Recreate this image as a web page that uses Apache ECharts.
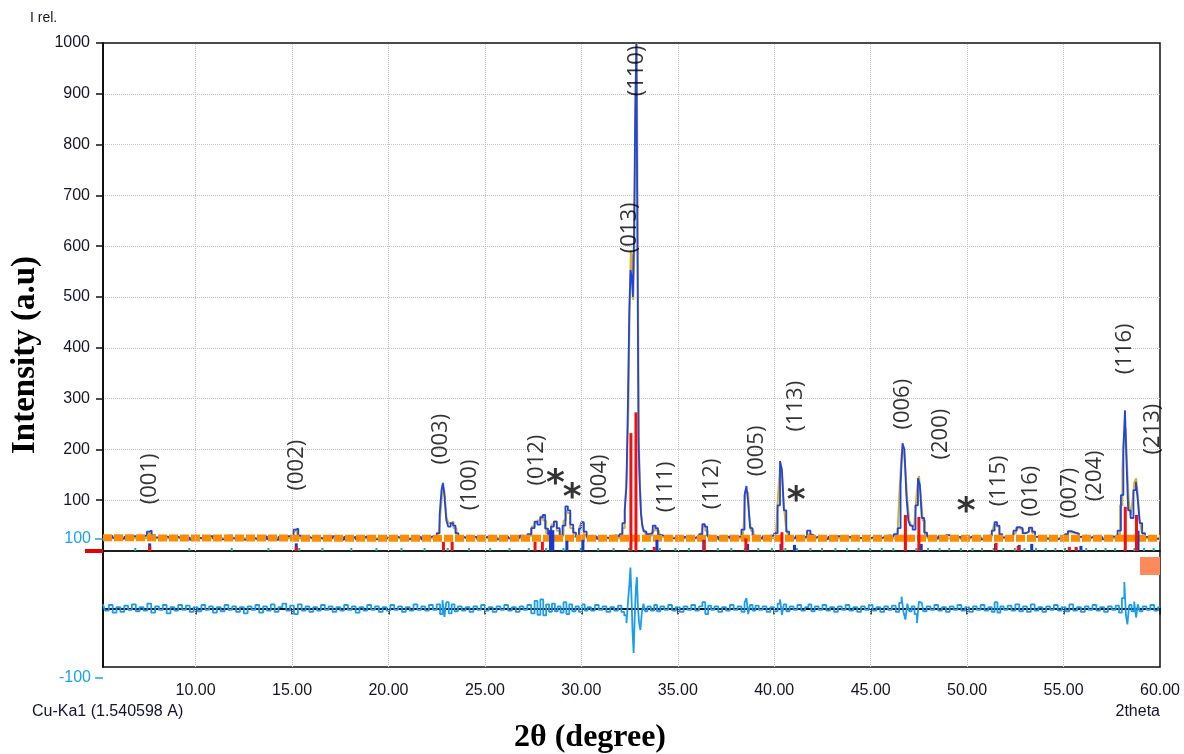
<!DOCTYPE html>
<html>
<head>
<meta charset="utf-8">
<title>XRD refinement</title>
<script src="https://cdn.jsdelivr.net/npm/echarts@6/dist/echarts.min.js"></script>
<style>
    html, body { margin: 0; padding: 0; background: #fff; }
    #chart { width: 1184px; height: 754px; }
</style>
</head>
<body>
<div id="chart"></div>
<script>
// x range of the pattern (2theta)
const xMin = 5.2
const xMax = 60
const xTicks = [10, 15, 20, 25, 30, 35, 40, 45, 50, 55, 60]
const xGridLines = [10, 15, 20, 25, 30, 35, 40, 45, 50, 55]

// observed pattern [2theta, I]
const observed = [
    [5.2, 31], [5.4, 27], [5.6, 30], [5.8, 26], [6.0, 29], [6.2, 24], [6.4, 28], [6.6, 23], [6.8, 29], [7.0, 26],
    [7.2, 28], [7.4, 31], [7.55, 38], [7.65, 40], [7.8, 31], [8.0, 27], [8.2, 24], [8.4, 29], [8.6, 26], [8.8, 23],
    [9.0, 28], [9.2, 25], [9.4, 29], [9.6, 26], [9.8, 22], [10.0, 28], [10.2, 25], [10.4, 27], [10.6, 23], [10.8, 29],
    [11.0, 25], [11.2, 28], [11.4, 23], [11.6, 26], [11.8, 30], [12.0, 25], [12.2, 28], [12.4, 23], [12.6, 21], [12.8, 28],
    [13.0, 25], [13.2, 22], [13.4, 27], [13.6, 29], [13.8, 23], [14.0, 26], [14.2, 22], [14.4, 28], [14.6, 25], [14.8, 29],
    [15.0, 31], [15.15, 42], [15.25, 44], [15.4, 30], [15.6, 23], [15.8, 28], [16.0, 25], [16.2, 29], [16.4, 26], [16.6, 23],
    [16.8, 28], [17.0, 25], [17.2, 29], [17.4, 26], [17.6, 22], [17.8, 28], [18.0, 25], [18.2, 28], [18.4, 23], [18.6, 26],
    [18.8, 29], [19.0, 25], [19.2, 28], [19.4, 23], [19.6, 26], [19.8, 29], [20.0, 25], [20.2, 22], [20.4, 28], [20.6, 25],
    [20.8, 29], [21.0, 23], [21.2, 26], [21.4, 25], [21.6, 28], [21.8, 23], [22.0, 26], [22.2, 29], [22.4, 28], [22.6, 35],
    [22.7, 70], [22.8, 120], [22.85, 134], [22.95, 110], [23.05, 60], [23.15, 48], [23.3, 55], [23.4, 50], [23.55, 35], [23.7, 29],
    [23.9, 26], [24.1, 29], [24.3, 24], [24.5, 28], [24.7, 23], [24.9, 26], [25.1, 29], [25.3, 24], [25.5, 28], [25.7, 23],
    [25.9, 26], [26.1, 29], [26.3, 25], [26.5, 28], [26.7, 26], [26.9, 30], [27.1, 28], [27.3, 33], [27.5, 45], [27.65, 58],
    [27.8, 52], [27.95, 66], [28.05, 71], [28.2, 44], [28.35, 32], [28.5, 48], [28.65, 58], [28.8, 45], [28.95, 30], [29.1, 50],
    [29.25, 88], [29.35, 80], [29.5, 52], [29.65, 36], [29.8, 28], [29.95, 44], [30.05, 57], [30.2, 38], [30.35, 28], [30.5, 26],
    [30.7, 29], [30.9, 24], [31.1, 28], [31.3, 26], [31.5, 29], [31.7, 31], [31.9, 29], [32.05, 33], [32.2, 55], [32.3, 80],
    [32.37, 126], [32.45, 281], [32.52, 470], [32.58, 553], [32.64, 540], [32.7, 500], [32.76, 620], [32.82, 850], [32.88, 1000], [32.93, 620],
    [33.0, 213], [33.06, 130], [33.12, 75], [33.2, 50], [33.3, 38], [33.45, 33], [33.6, 35], [33.8, 50], [33.9, 45], [34.05, 32],
    [34.2, 30], [34.4, 27], [34.6, 29], [34.8, 25], [35.0, 28], [35.2, 24], [35.4, 28], [35.6, 23], [35.8, 26], [36.0, 29],
    [36.2, 33], [36.35, 53], [36.45, 48], [36.6, 30], [36.8, 24], [37.0, 28], [37.2, 23], [37.4, 26], [37.6, 29], [37.8, 25],
    [38.0, 28], [38.2, 29], [38.4, 42], [38.52, 110], [38.6, 128], [38.7, 95], [38.8, 45], [38.95, 30], [39.1, 27], [39.3, 24],
    [39.5, 29], [39.7, 26], [39.9, 30], [40.1, 35], [40.25, 90], [40.35, 177], [40.45, 160], [40.55, 80], [40.7, 38], [40.85, 29],
    [41.0, 25], [41.2, 29], [41.4, 24], [41.6, 28], [41.8, 40], [41.95, 32], [42.1, 27], [42.3, 30], [42.5, 26], [42.7, 23],
    [42.9, 28], [43.1, 25], [43.3, 29], [43.5, 26], [43.7, 23], [43.9, 28], [44.1, 25], [44.3, 22], [44.5, 26], [44.7, 29],
    [44.9, 25], [45.1, 28], [45.3, 23], [45.5, 26], [45.7, 29], [45.9, 31], [46.1, 29], [46.3, 33], [46.5, 45], [46.6, 130],
    [46.7, 212], [46.8, 200], [46.9, 110], [47.0, 60], [47.1, 50], [47.25, 42], [47.4, 90], [47.5, 143], [47.6, 130], [47.7, 65],
    [47.85, 36], [48.0, 29], [48.2, 27], [48.4, 24], [48.6, 29], [48.8, 26], [49.0, 31], [49.2, 28], [49.4, 24], [49.6, 28],
    [49.8, 23], [50.0, 26], [50.2, 29], [50.4, 25], [50.6, 28], [50.8, 23], [51.0, 26], [51.2, 30], [51.35, 40], [51.5, 57],
    [51.6, 50], [51.75, 33], [51.9, 27], [52.1, 26], [52.3, 29], [52.5, 40], [52.65, 47], [52.8, 45], [52.95, 35], [53.1, 38],
    [53.3, 46], [53.45, 38], [53.6, 28], [53.8, 26], [54.0, 29], [54.2, 24], [54.4, 28], [54.6, 23], [54.8, 26], [55.0, 29],
    [55.15, 33], [55.3, 39], [55.5, 36], [55.7, 34], [55.9, 28], [56.1, 31], [56.3, 26], [56.5, 29], [56.7, 24], [56.9, 28],
    [57.1, 23], [57.3, 26], [57.5, 29], [57.7, 27], [57.9, 40], [58.05, 110], [58.15, 200], [58.22, 277], [58.3, 180], [58.4, 80],
    [58.55, 65], [58.7, 120], [58.8, 136], [58.9, 100], [59.0, 55], [59.15, 35], [59.3, 28], [59.5, 26], [59.7, 29], [59.9, 24],
    [60.0, 27]
]

// calculated profile [2theta, I]
const calculated = [
    [5.2, 25], [7.45, 25], [7.55, 34], [7.65, 36], [7.75, 25], [15.05, 25], [15.15, 38], [15.25, 40], [15.35, 25], [22.55, 25],
    [22.62, 30], [22.7, 60], [22.78, 95], [22.85, 128], [22.95, 118], [23.05, 68], [23.15, 55], [23.3, 58], [23.45, 45], [23.6, 28],
    [23.7, 25], [27.25, 25], [27.35, 30], [27.5, 48], [27.65, 55], [27.8, 60], [27.95, 68], [28.1, 60], [28.25, 35], [28.4, 40],
    [28.5, 52], [28.65, 58], [28.8, 40], [29.0, 30], [29.15, 60], [29.25, 80], [29.35, 75], [29.5, 45], [29.7, 28], [29.85, 30],
    [29.95, 48], [30.05, 55], [30.2, 32], [30.35, 25], [31.95, 25], [32.05, 28], [32.2, 45], [32.3, 80], [32.4, 150], [32.48, 281],
    [32.54, 500], [32.6, 592], [32.66, 580], [32.72, 494], [32.78, 600], [32.84, 900], [32.9, 1000], [32.96, 560], [33.0, 224], [33.06, 134],
    [33.14, 70], [33.25, 40], [33.4, 32], [33.6, 30], [33.75, 40], [33.85, 48], [33.95, 40], [34.1, 28], [34.2, 25], [36.15, 25],
    [36.25, 30], [36.35, 50], [36.5, 40], [36.6, 28], [36.7, 25], [38.35, 25], [38.45, 40], [38.55, 118], [38.65, 115], [38.75, 70],
    [38.85, 40], [39.0, 28], [39.1, 25], [40.05, 25], [40.15, 40], [40.25, 110], [40.35, 165], [40.45, 150], [40.55, 90], [40.65, 50],
    [40.75, 32], [40.85, 25], [41.75, 25], [41.82, 32], [41.9, 36], [41.98, 25], [46.35, 25], [46.45, 40], [46.55, 120], [46.65, 190],
    [46.75, 205], [46.85, 160], [46.95, 100], [47.05, 60], [47.15, 50], [47.25, 48], [47.35, 70], [47.45, 120], [47.55, 148], [47.65, 110],
    [47.75, 60], [47.88, 32], [48.0, 25], [51.25, 25], [51.35, 38], [51.45, 52], [51.6, 48], [51.75, 32], [51.85, 25], [52.35, 25],
    [52.45, 35], [52.6, 45], [52.8, 42], [53.0, 35], [53.15, 38], [53.3, 44], [53.45, 36], [53.6, 28], [53.7, 25], [55.05, 25],
    [55.15, 32], [55.3, 37], [55.5, 36], [55.7, 33], [55.85, 27], [55.95, 25], [57.75, 25], [57.85, 32], [58.0, 90], [58.1, 160],
    [58.18, 230], [58.25, 242], [58.33, 170], [58.42, 100], [58.52, 70], [58.62, 95], [58.72, 135], [58.8, 143], [58.9, 110], [59.0, 60],
    [59.1, 38], [59.2, 30], [59.3, 25], [60.0, 25]
]

// background line
const background = [[5.2, 26], [20, 25], [40, 25], [60, 25]]

// observed - calculated
const difference = [
    [5.2, 6], [5.4, -3], [5.6, 5], [5.8, -6], [6.0, 2], [6.2, -5], [6.4, 4], [6.6, -2], [6.8, 6], [7.0, -4],
    [7.2, 2], [7.4, -3], [7.6, 7], [7.8, -6], [8.0, 3], [8.2, -2], [8.4, 5], [8.6, -7], [8.8, 2], [9.0, -3],
    [9.2, 5], [9.4, -2], [9.6, 4], [9.8, -5], [10.0, 2], [10.2, -4], [10.4, 5], [10.6, -2], [10.8, 3], [11.0, -6],
    [11.2, 2], [11.4, -4], [11.6, 5], [11.8, -2], [12.0, 3], [12.2, -5], [12.4, 2], [12.6, -7], [12.8, 3], [13.0, -2],
    [13.2, 5], [13.4, -6], [13.6, 3], [13.8, -3], [14.0, 6], [14.2, -5], [14.4, 2], [14.6, 7], [14.8, -3], [15.0, 4],
    [15.2, -8], [15.4, 6], [15.6, -3], [15.8, 3], [16.0, -5], [16.2, 2], [16.4, -3], [16.6, 5], [16.8, -2], [17.0, 3],
    [17.2, -5], [17.4, 2], [17.6, -3], [17.8, 5], [18.0, -2], [18.2, 3], [18.4, -6], [18.6, 2], [18.8, -3], [19.0, 5],
    [19.2, -2], [19.4, 3], [19.6, -5], [19.8, 2], [20.0, -3], [20.2, 5], [20.4, -2], [20.6, 3], [20.8, -5], [21.0, 2],
    [21.2, -3], [21.4, 6], [21.6, -2], [21.8, 3], [22.0, -3], [22.2, 5], [22.4, -2], [22.6, 6], [22.75, -8], [22.85, 12],
    [22.95, -12], [23.05, 9], [23.2, -7], [23.35, 6], [23.5, -4], [23.7, 3], [23.9, -3], [24.1, 2], [24.3, -5], [24.5, 3],
    [24.7, -2], [24.9, 5], [25.1, -3], [25.3, 2], [25.5, -5], [25.7, 3], [25.9, -2], [26.1, 5], [26.3, -3], [26.5, 2],
    [26.7, -5], [26.9, 3], [27.1, -2], [27.3, 5], [27.5, -7], [27.65, 11], [27.8, -9], [27.95, 13], [28.1, -10], [28.25, 6],
    [28.4, -5], [28.55, 7], [28.7, -4], [28.85, 3], [29.0, -6], [29.15, 9], [29.3, -8], [29.45, 6], [29.6, -4], [29.8, 3],
    [29.95, -5], [30.1, 6], [30.25, -3], [30.4, 2], [30.6, -3], [30.8, 5], [31.0, -2], [31.2, 3], [31.4, -5], [31.6, 2],
    [31.8, -3], [32.0, 4], [32.15, -5], [32.3, -10], [32.38, -21], [32.46, 10], [32.52, 35], [32.57, 59], [32.62, 20], [32.68, -30],
    [32.74, -64], [32.8, -10], [32.86, 30], [32.9, 45], [32.96, 5], [33.02, -20], [33.1, -31], [33.18, -5], [33.26, 7], [33.35, -4],
    [33.5, 3], [33.7, -3], [33.85, 5], [34.0, -4], [34.2, 3], [34.4, -2], [34.6, 5], [34.8, -3], [35.0, 2], [35.2, -5],
    [35.4, 3], [35.6, -2], [35.8, 5], [36.0, -3], [36.2, 3], [36.35, 9], [36.5, -8], [36.65, 4], [36.8, -2], [37.0, 3],
    [37.2, -5], [37.4, 2], [37.6, -3], [37.8, 5], [38.0, -2], [38.2, 3], [38.4, -5], [38.52, 8], [38.6, 15], [38.7, -8],
    [38.8, 5], [38.95, -3], [39.1, 4], [39.3, -2], [39.5, 3], [39.7, -5], [39.9, 2], [40.1, -4], [40.25, 7], [40.35, 13],
    [40.45, -9], [40.55, 6], [40.7, -4], [40.9, 3], [41.1, -2], [41.3, 5], [41.5, -3], [41.7, 2], [41.85, 6], [42.0, -4],
    [42.2, 3], [42.4, -2], [42.6, 5], [42.8, -3], [43.0, 2], [43.2, -5], [43.4, 3], [43.6, -2], [43.8, 5], [44.0, -3],
    [44.2, 2], [44.4, -5], [44.6, 3], [44.8, -2], [45.0, 5], [45.2, -3], [45.4, 2], [45.6, -5], [45.8, 3], [46.0, -2],
    [46.2, 4], [46.4, -5], [46.55, 8], [46.65, 17], [46.75, -5], [46.85, -16], [46.95, 7], [47.05, -4], [47.2, 3], [47.35, -8],
    [47.45, -21], [47.55, 10], [47.65, 8], [47.8, -4], [48.0, 3], [48.2, -2], [48.4, 5], [48.6, -3], [48.8, 2], [49.0, -5],
    [49.2, 3], [49.4, -2], [49.6, 5], [49.8, -3], [50.0, 2], [50.2, -5], [50.4, 3], [50.6, -2], [50.8, 5], [51.0, -3],
    [51.2, 2], [51.35, -5], [51.5, 9], [51.65, -6], [51.8, 3], [52.0, -2], [52.2, 4], [52.4, -3], [52.6, 6], [52.8, -4],
    [53.0, 3], [53.2, -5], [53.4, 6], [53.6, -3], [53.8, 2], [54.0, -5], [54.2, 3], [54.4, -2], [54.6, 5], [54.8, -3],
    [55.0, 2], [55.2, -4], [55.4, 6], [55.6, -3], [55.8, 2], [56.0, -5], [56.2, 3], [56.4, -2], [56.6, 5], [56.8, -3],
    [57.0, 2], [57.2, -5], [57.4, 3], [57.6, -2], [57.8, 4], [57.95, -6], [58.1, 15], [58.2, 38], [58.27, -10], [58.35, -23],
    [58.45, 5], [58.6, -4], [58.72, 10], [58.8, -13], [58.9, 6], [59.0, -4], [59.2, 3], [59.4, -2], [59.6, 5], [59.8, -3],
    [60.0, 2]
]

// reflection markers of the main phase (red) and the second phase (blue)
const redSticks = [
    [7.62, 10], [15.22, 8], [22.85, 18], [23.3, 18], [27.6, 18], [27.98, 18], [32.57, 232], [32.83, 273], [33.78, 8], [36.37, 20],
    [38.53, 25], [40.4, 37], [46.8, 71], [47.5, 67], [51.5, 16], [52.65, 10], [55.3, 8], [55.65, 8], [58.2, 87], [58.78, 71]
]
const blueSticks = [
    [7.62, 15], [15.22, 15], [28.4, 41], [28.52, 41], [29.25, 20], [30.08, 22], [33.92, 22], [36.35, 22], [38.62, 14], [40.35, 14],
    [41.05, 12], [47.62, 14], [51.47, 14], [52.7, 12], [53.35, 14], [55.9, 10], [58.86, 40]
]
// third phase tick marks along the base line
const tealTicks = [
    6.9, 9.7, 11.9, 13.8, 15.4, 16.6, 18.1, 19.4, 20.7, 21.9, 23.1, 24.2, 25.3, 26.3, 27.3, 28.2, 29.1, 30.0, 30.9, 31.7,
    32.5, 33.3, 34.1, 34.9, 35.6, 36.4, 37.1, 37.8, 38.5, 39.2, 39.9, 40.6, 41.2, 41.9, 42.5, 43.2, 43.8, 44.4, 45.0, 45.6,
    46.2, 46.8, 47.4, 48.0, 48.6, 49.1, 49.7, 50.3, 50.8, 51.4, 51.9, 52.5, 53.0, 53.6, 54.1, 54.6, 55.1, 55.7, 56.2, 56.7,
    57.2, 57.7, 58.2, 58.7, 59.2, 59.7
]

// Miller index labels [2theta, I, text]
const hklLabels = [
    [7.62, 142, '(001)'], [15.23, 169, '(002)'], [22.7, 220, '(003)'], [24.2, 130, '(100)'], [27.67, 179, '(012)'],
    [30.93, 140, '(004)'], [32.49, 636, '(013)'], [32.85, 945, '(110)'], [34.4, 126, '(111)'], [36.74, 132, '(112)'],
    [39.07, 197, '(005)'], [41.14, 285, '(113)'], [46.68, 289, '(006)'], [48.65, 230, '(200)'], [51.66, 138, '(115)'],
    [53.32, 118, '(016)'], [55.34, 114, '(007)'], [56.63, 148, '(204)'], [58.19, 398, '(116)'], [59.64, 240, '(213)']
]
// impurity marks
const stars = [[28.65, 148], [29.53, 120], [41.14, 114], [49.95, 94]]

const chart = echarts.init(document.getElementById('chart'))

const tickFont = { fontFamily: 'Liberation Sans', fontSize: 16, color: '#15152a' }
const gridLineStyle = { type: 'dotted', color: '#c4c4c4', width: 1 }
const vLines = {
    silent: true, symbol: 'none', animation: false,
    label: { show: false },
    lineStyle: gridLineStyle,
    data: xGridLines.map(v => ({ xAxis: v }))
}

const option = {
    animation: false,
    backgroundColor: '#fff',
    grid: [
        { left: 103, top: 43, width: 1057, height: 508, show: true, borderColor: '#111', borderWidth: 1.5 },
        { left: 103, top: 551, width: 1057, height: 116, show: true, borderColor: '#111', borderWidth: 1.5 },
        { left: 103, top: 539, width: 1057, height: 139 }
    ],
    xAxis: [
        { gridIndex: 0, type: 'value', min: xMin, max: xMax, axisLine: { show: false }, axisTick: { show: false },
          axisLabel: { show: false }, splitLine: { show: false } },
        { gridIndex: 1, type: 'value', min: xMin, max: xMax,
          axisLine: { show: true, lineStyle: { color: '#111', width: 2 } },
          axisTick: { show: true, length: 6, customValues: xTicks, lineStyle: { color: '#111', width: 1.5 } },
          axisLabel: Object.assign({ customValues: xTicks, margin: 16, formatter: v => v.toFixed(2) }, tickFont),
          splitLine: { show: false } },
        { gridIndex: 2, type: 'value', min: xMin, max: xMax, show: false }
    ],
    yAxis: [
        { gridIndex: 0, type: 'value', min: 0, max: 1000, interval: 100,
          axisLine: { show: true, lineStyle: { color: '#111', width: 2 } },
          axisTick: { show: true, length: 7, lineStyle: { color: '#111', width: 1.5 } },
          axisLabel: Object.assign({ margin: 13, formatter: v => v === 0 ? '' : v }, tickFont),
          splitLine: { show: true, showMinLine: false, showMaxLine: false, lineStyle: gridLineStyle } },
        { gridIndex: 1, type: 'value', min: -84.2, max: 82.7,
          axisLine: { show: true, lineStyle: { color: '#111', width: 2 } },
          axisTick: { show: false }, axisLabel: { show: false }, splitLine: { show: false } },
        { gridIndex: 2, type: 'value', min: -100, max: 100, interval: 200,
          axisLine: { show: false },
          axisTick: { show: true, length: 8, lineStyle: { color: '#1aa3f0', width: 1.5 } },
          axisLabel: { margin: 12, fontFamily: 'Liberation Sans', fontSize: 16, color: '#1aa3f0' },
          splitLine: { show: false } }
    ],
    series: [
        {
            name: 'calculated', type: 'line', xAxisIndex: 0, yAxisIndex: 0, z: 2,
            data: calculated, step: 'middle', showSymbol: false,
            lineStyle: { color: '#d8b12a', width: 2 }
        },
        {
            name: 'observed', type: 'line', xAxisIndex: 0, yAxisIndex: 0, z: 3,
            data: observed, step: 'middle', showSymbol: false,
            lineStyle: { color: '#1f45e0', width: 1.8 },
            markLine: vLines
        },
        {
            name: 'background', type: 'line', xAxisIndex: 0, yAxisIndex: 0, z: 4,
            data: background, showSymbol: false,
            lineStyle: { color: '#ff8c00', width: 7, type: [9, 2] }
        },
        {
            name: 'phase 3', type: 'bar', xAxisIndex: 0, yAxisIndex: 0, z: 5,
            data: tealTicks.map(v => [v, 6]), barWidth: 2, barGap: '-100%',
            itemStyle: { color: '#18b08a' }
        },
        {
            name: 'phase 2', type: 'bar', xAxisIndex: 0, yAxisIndex: 0, z: 5,
            data: blueSticks, barWidth: 3, barGap: '-100%',
            itemStyle: { color: '#1638d8' }
        },
        {
            name: 'phase 1', type: 'bar', xAxisIndex: 0, yAxisIndex: 0, z: 6,
            data: redSticks, barWidth: 3, barGap: '-100%',
            itemStyle: { color: '#f01010' }
        },
        {
            name: 'hkl', type: 'scatter', xAxisIndex: 0, yAxisIndex: 0, z: 8,
            data: hklLabels.map(d => ({ value: [d[0], d[1]], name: d[2] })),
            symbolSize: 0, silent: true,
            label: { show: true, position: 'inside', rotate: 90, formatter: p => p.name,
                     fontFamily: 'Open Sans', fontSize: 22, color: '#000' }
        },
        {
            name: 'impurity', type: 'scatter', xAxisIndex: 0, yAxisIndex: 0, z: 8,
            data: stars, symbolSize: 0, silent: true,
            label: { show: true, position: 'inside', offset: [0, 9], formatter: '*',
                     fontFamily: 'DejaVu Sans', fontWeight: 'bold', fontSize: 36, color: '#000' }
        },
        {
            name: 'difference', type: 'line', xAxisIndex: 1, yAxisIndex: 1, z: 3,
            data: difference, step: 'middle', showSymbol: false,
            lineStyle: { color: '#1a9cf0', width: 1.8 },
            markLine: vLines
        }
    ],
    graphic: [
        { type: 'rect', shape: { x: 85, y: 549, width: 18, height: 4 }, style: { fill: '#e80000' }, z: 10 },
        { type: 'rect', shape: { x: 1140, y: 557, width: 20, height: 18 }, style: { fill: '#ff8a5c' }, z: 10 },
        { type: 'text', left: 30, top: 11, style: { text: 'I rel.', font: '14px "Liberation Sans"', fill: '#15152a' } },
        { type: 'text', left: 32, top: 704, style: { text: 'Cu-Ka1 (1.540598 A)', font: '16px "Liberation Sans"', fill: '#15152a' } },
        { type: 'text', right: 24, top: 704, style: { text: '2theta', font: '16px "Liberation Sans"', fill: '#15152a' } },
        { type: 'text', x: 25, y: 355, rotation: Math.PI / 2,
          style: { text: 'Intensity (a.u)', font: 'bold 33px "Liberation Serif"', fill: '#000',
                   textAlign: 'center', textVerticalAlign: 'middle' } },
        { type: 'text', x: 590, y: 738,
          style: { text: '2θ (degree)', font: 'bold 32px "Liberation Serif"', fill: '#000',
                   textAlign: 'center', textVerticalAlign: 'middle' } }
    ]
}

chart.setOption(option)
</script>
</body>
</html>
